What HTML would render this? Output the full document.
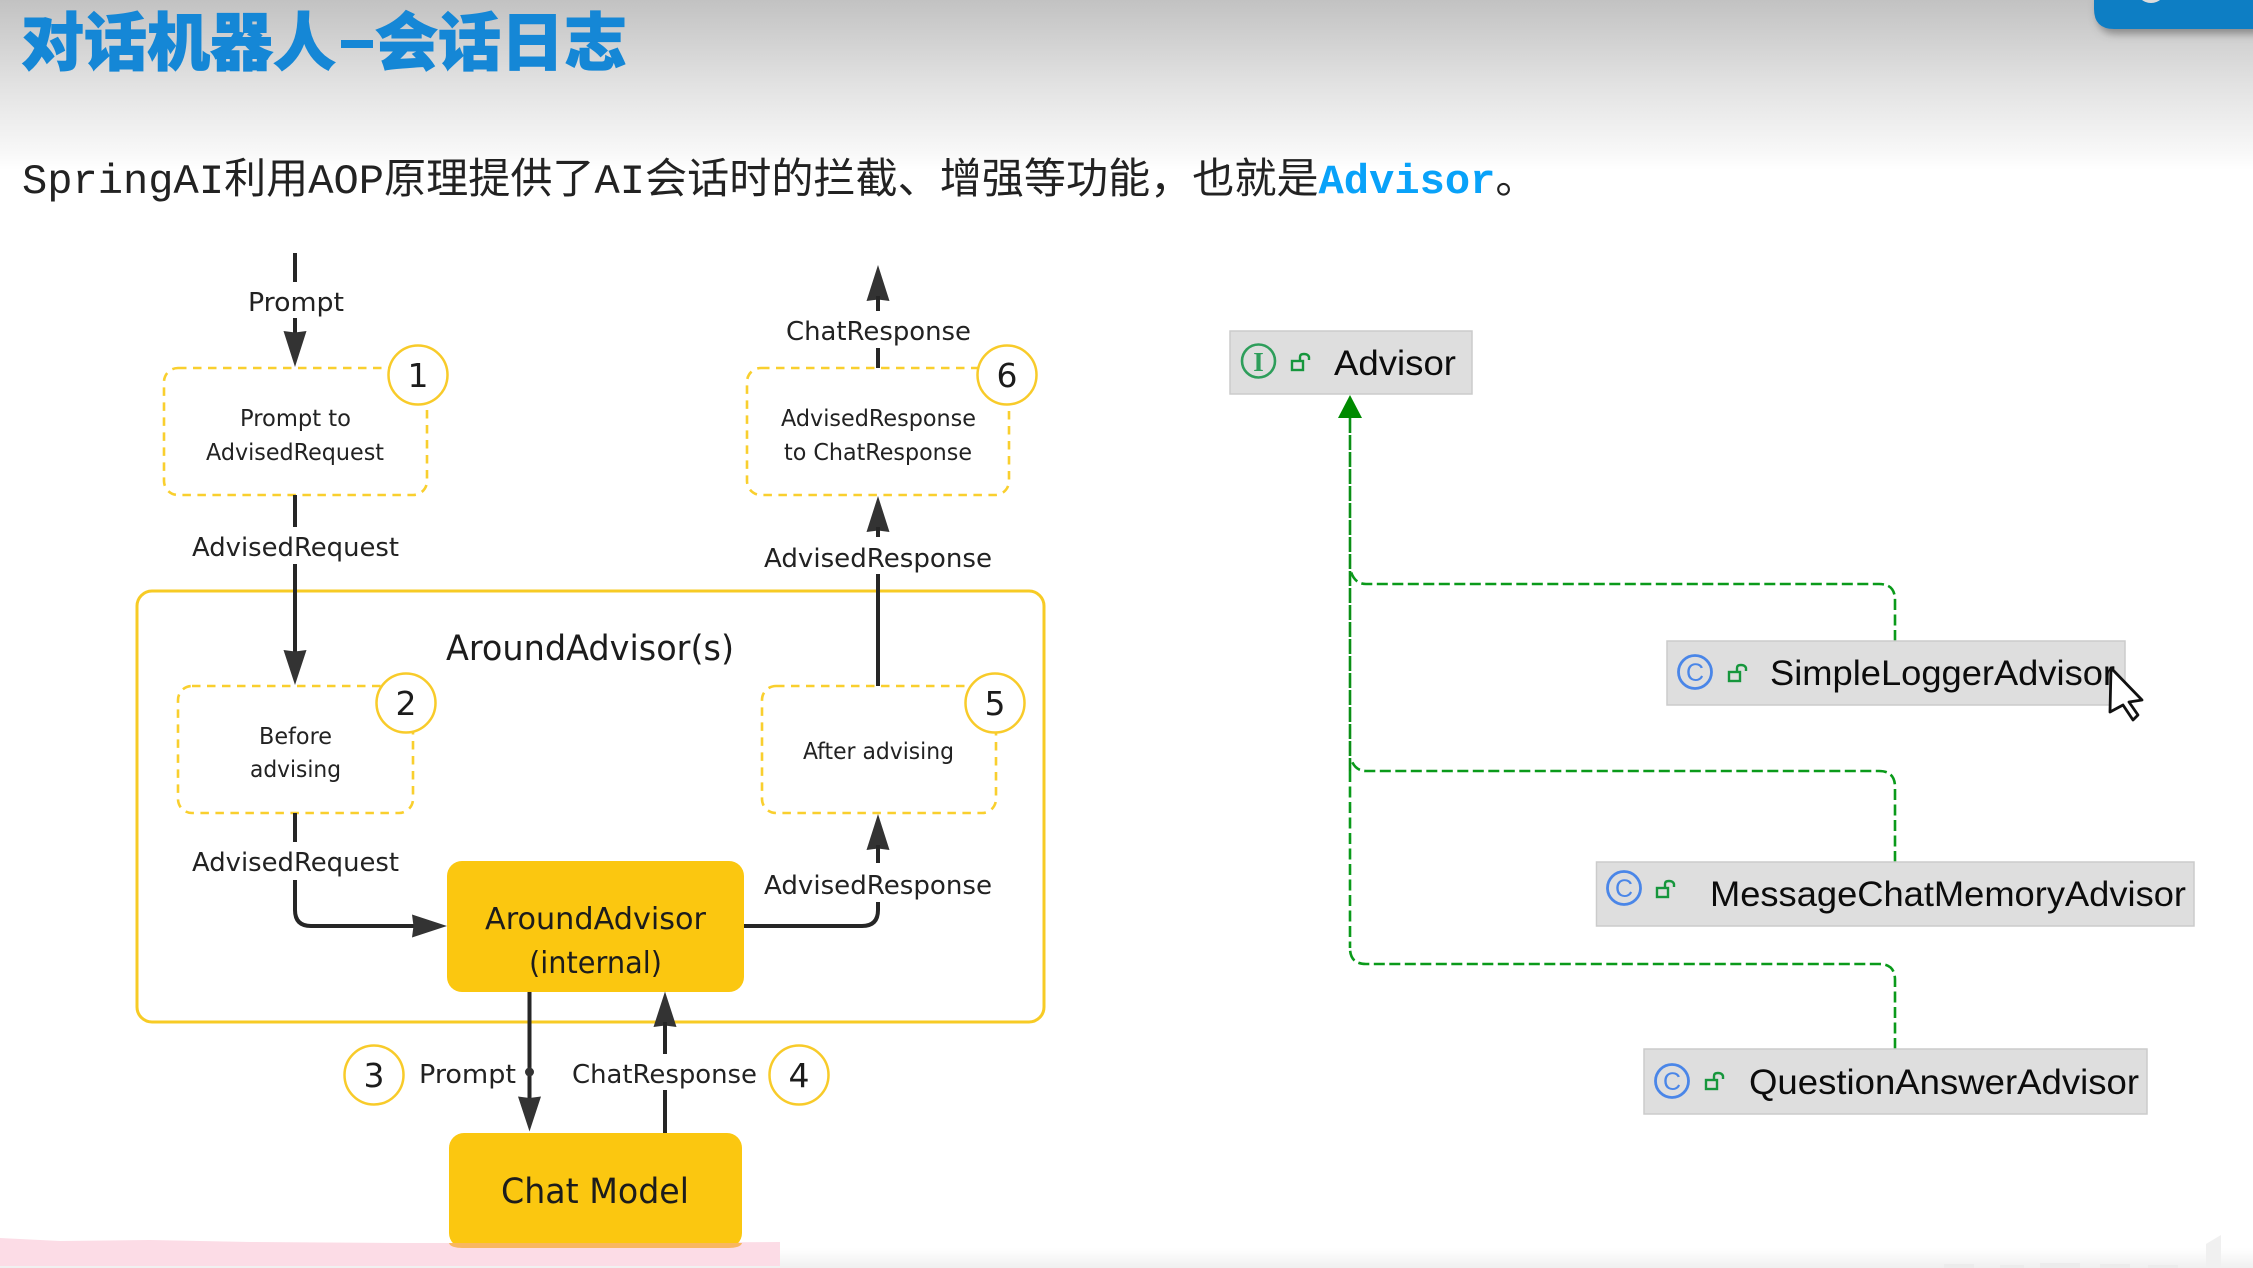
<!DOCTYPE html>
<html lang="zh">
<head>
<meta charset="utf-8">
<title>对话机器人-会话日志</title>
<style>
html,body{margin:0;padding:0;background:#fff;width:2253px;height:1268px;overflow:hidden}
svg{display:block}
.e{font-family:"DejaVu Sans","Liberation Sans",sans-serif;font-size:26px;fill:#222}
.n{font-family:"DejaVu Sans","Liberation Sans",sans-serif;font-size:23px;fill:#222}
.b{font-family:"DejaVu Sans","Liberation Sans",sans-serif;fill:#1c1c1c}
.d{font-family:"DejaVu Sans","Liberation Sans",sans-serif;font-size:33px;fill:#1c1c1c;text-anchor:middle}
.u{font-family:"Liberation Sans",sans-serif;font-size:35px;fill:#0c0c0c}
.dash{fill:none;stroke:#f9cf2e;stroke-width:2.6;stroke-dasharray:8.500 6.500}
.ln{fill:none;stroke:#262626;stroke-width:4}
.ah{fill:#333}
.c{fill:#fff;stroke:#f8cb2a;stroke-width:2.5}
.g{fill:none;stroke:#0a9a1a;stroke-width:2.6;stroke-dasharray:11 4.500}
.cls{fill:#dedede;stroke:#cbcbcb;stroke-width:1.500}
.lock{fill:none;stroke:#16963c;stroke-width:2.4}
</style>
</head>
<body>
<svg xmlns="http://www.w3.org/2000/svg" width="2253" height="1268" viewBox="0 0 2253 1268">
<defs>
<linearGradient id="top" x1="0" y1="0" x2="0" y2="1">
<stop offset="0" stop-color="#c2c2c2"/>
<stop offset=".5" stop-color="#e2e2e2"/>
<stop offset=".9" stop-color="#f8f8f8"/>
<stop offset="1" stop-color="#ffffff"/>
</linearGradient>
<linearGradient id="bot" x1="0" y1="0" x2="0" y2="1">
<stop offset="0" stop-color="#ffffff"/>
<stop offset="1" stop-color="#f0f0f0"/>
</linearGradient>
<filter id="sh" x="-10%" y="-30%" width="120%" height="180%">
<feDropShadow dx="3" dy="5" stdDeviation="4" flood-color="#555" flood-opacity=".55"/>
</filter>
</defs>

<rect width="2253" height="1268" fill="#fff"/>
<rect width="2253" height="170" fill="url(#top)"/>
<rect y="1248" width="2253" height="20" fill="url(#bot)"/>

<!-- top-right tab -->
<path d="M2094 -5H2260V29H2114Q2094 29 2094 9Z" fill="#117ec4" filter="url(#sh)"/>
<circle cx="2151" cy="-12" r="15" fill="#dcdcdc"/>

<!-- title -->
<g font-family="'Noto Sans CJK SC','WenQuanYi Zen Hei',sans-serif" font-weight="900" font-size="63" fill="#1587d6" stroke="#1587d6" stroke-width="1">
<text x="21" y="65">对话机器人</text>
<text x="375" y="65">会话日志</text>
</g>
<rect x="341" y="40" width="32" height="8" fill="#1587d6"/>

<!-- subtitle -->
<text x="22" y="193" xml:space="preserve" font-family="'Liberation Mono','Noto Sans CJK SC',monospace" font-size="42.100" fill="#222">SpringAI利用AOP原理提供了AI会话时的拦截、增强等功能&#xFF0C;也就是<tspan font-weight="700" fill="#09a2f9">Advisor</tspan>。</text>

<!-- pink strip -->
<path d="M0 1238L40 1240 60 1241 150 1240 250 1242 400 1243 600 1243 780 1242V1266H0Z" fill="#fcdce6"/>

<!-- faint bottom-right marks -->
<g fill="#ececec">
<rect x="1944" y="1264" width="30" height="4"/>
<rect x="2000" y="1265" width="24" height="3"/>
<rect x="2040" y="1263" width="40" height="5"/>
<rect x="2100" y="1264" width="30" height="4"/>
<rect x="2148" y="1265" width="30" height="3"/>
<path d="M2206 1244L2221 1235V1268H2206Z" fill="#f0f0f0"/>
</g>

<!-- outer box -->
<rect x="137" y="591" width="907" height="431" rx="15" fill="none" stroke="#f7cb25" stroke-width="3"/>
<text class="b" x="446" y="660" font-size="35" textLength="288" lengthAdjust="spacingAndGlyphs">AroundAdvisor(s)</text>

<!-- dashed boxes -->
<rect class="dash" x="164" y="368" width="263" height="127" rx="14"/>
<rect class="dash" x="747" y="368" width="262" height="127" rx="14"/>
<rect class="dash" x="178" y="686" width="235" height="127" rx="14"/>
<rect class="dash" x="762" y="686" width="234" height="127" rx="14"/>

<text class="n" x="240" y="426" textLength="111" lengthAdjust="spacingAndGlyphs">Prompt to</text>
<text class="n" x="206" y="460" textLength="178" lengthAdjust="spacingAndGlyphs">AdvisedRequest</text>
<text class="n" x="781" y="426" textLength="195" lengthAdjust="spacingAndGlyphs">AdvisedResponse</text>
<text class="n" x="784" y="460" textLength="188" lengthAdjust="spacingAndGlyphs">to ChatResponse</text>
<text class="n" x="259" y="744" textLength="73" lengthAdjust="spacingAndGlyphs">Before</text>
<text class="n" x="250" y="777" textLength="91" lengthAdjust="spacingAndGlyphs">advising</text>
<text class="n" x="803" y="759" textLength="151" lengthAdjust="spacingAndGlyphs">After advising</text>

<!-- solid boxes -->
<rect x="447" y="861" width="297" height="131" rx="15" fill="#fbc710"/>
<text class="b" x="485" y="929" font-size="30" textLength="221" lengthAdjust="spacingAndGlyphs">AroundAdvisor</text>
<text class="b" x="529" y="973" font-size="30" textLength="133" lengthAdjust="spacingAndGlyphs">(internal)</text>

<rect x="449" y="1133" width="293" height="115" rx="15" fill="#fbc710"/>
<path d="M449 1243H742Q741 1248 727 1248H464Q450 1248 449 1243Z" fill="#f9b75f"/>
<text class="b" x="501" y="1203" font-size="35" textLength="188" lengthAdjust="spacingAndGlyphs">Chat Model</text>

<!-- connectors left column -->
<path class="ln" d="M295 253V282"/>
<text class="e" x="248" y="311" textLength="96" lengthAdjust="spacingAndGlyphs">Prompt</text>
<path class="ln" d="M295 318V335"/>
<path class="ah" d="M295 367L283.500 331 295 332.500 306.500 331Z"/>

<path class="ln" d="M295 495V527"/>
<text class="e" x="192" y="556" textLength="207" lengthAdjust="spacingAndGlyphs">AdvisedRequest</text>
<path class="ln" d="M295 564V655"/>
<path class="ah" d="M295 685L283.500 650 295 651.500 306.500 650Z"/>

<path class="ln" d="M295 813V842"/>
<text class="e" x="192" y="871" textLength="207" lengthAdjust="spacingAndGlyphs">AdvisedRequest</text>
<path class="ln" d="M295 880V910Q295 926 311 926H416"/>
<path class="ah" d="M447 926L412 914.500 413.500 926 412 937.500Z"/>

<!-- connectors right column -->
<path class="ah" d="M878 265L866.500 301 878 299.500 889.500 301Z"/>
<path class="ln" d="M878 296V311"/>
<text class="e" x="786" y="340" textLength="185" lengthAdjust="spacingAndGlyphs">ChatResponse</text>
<path class="ln" d="M878 348V368"/>

<path class="ah" d="M878 496L866.500 532 878 530.500 889.500 532Z"/>
<path class="ln" d="M878 527V537"/>
<text class="e" x="764" y="567" textLength="228" lengthAdjust="spacingAndGlyphs">AdvisedResponse</text>
<path class="ln" d="M878 574V686"/>

<path class="ah" d="M878 814L866.500 850 878 848.500 889.500 850Z"/>
<path class="ln" d="M878 845V863"/>
<text class="e" x="764" y="894" textLength="228" lengthAdjust="spacingAndGlyphs">AdvisedResponse</text>
<path class="ln" d="M878 902V910Q878 926 862 926H744"/>

<!-- centre connectors -->
<path class="ln" d="M529.500 992V1100"/>
<circle cx="529.500" cy="1072" r="4.500" fill="#333"/>
<path class="ah" d="M529.500 1131.500L518 1096.500 529.500 1098 541 1096.500Z"/>
<text class="e" x="419" y="1083" textLength="97" lengthAdjust="spacingAndGlyphs">Prompt</text>

<path class="ah" d="M665 991.500L653.500 1027 665 1025.500 676.500 1027Z"/>
<path class="ln" d="M665 1022V1054"/>
<text class="e" x="572" y="1083" textLength="185" lengthAdjust="spacingAndGlyphs">ChatResponse</text>
<path class="ln" d="M665 1090V1133"/>

<!-- number circles -->
<circle class="c" cx="418" cy="375" r="29.500"/><text class="d" x="418" y="387">1</text>
<circle class="c" cx="406" cy="703" r="29.500"/><text class="d" x="406" y="715">2</text>
<circle class="c" cx="374" cy="1075" r="29.500"/><text class="d" x="374" y="1087">3</text>
<circle class="c" cx="799" cy="1075" r="29.500"/><text class="d" x="799" y="1087">4</text>
<circle class="c" cx="995" cy="703" r="29.500"/><text class="d" x="995" y="715">5</text>
<circle class="c" cx="1007" cy="375" r="29.500"/><text class="d" x="1007" y="387">6</text>

<!-- class diagram connectors -->
<path class="g" d="M1895 641V600Q1895 584 1879 584H1366Q1355 584 1351 572"/>
<path class="g" d="M1895 862V787Q1895 771 1879 771H1366Q1355 771 1351 759"/>
<path class="g" d="M1895 1049V980Q1895 964 1879 964H1366Q1350 964 1350 948"/>
<path d="M1350 418V771" fill="none" stroke="#0a8f16" stroke-width="2.600" stroke-dasharray="15 2"/>
<path d="M1350 771V948" fill="none" stroke="#0a9a1a" stroke-width="2.600" stroke-dasharray="11 4.500"/>
<path d="M1350 395L1338 418H1362Z" fill="#008a00"/>

<!-- Advisor -->
<rect class="cls" x="1230" y="331" width="242" height="63"/>
<ellipse cx="1258.500" cy="361" rx="16.500" ry="16.500" fill="none" stroke="#2e9e5b" stroke-width="2.600"/>
<text x="1258.500" y="371" text-anchor="middle" font-family="'Liberation Serif',serif" font-weight="700" font-size="27" fill="#2e9e5b">I</text>
<g class="lock" transform="translate(1291 353)"><rect x="1" y="8" width="11" height="9"/><path d="M9 8V4Q9 1 13 1T18 4V7"/></g>
<text class="u" x="1334" y="375" textLength="122" lengthAdjust="spacingAndGlyphs">Advisor</text>

<!-- SimpleLoggerAdvisor -->
<rect class="cls" x="1667" y="641" width="458" height="64"/>
<circle cx="1695" cy="672" r="16.500" fill="none" stroke="#4a86e8" stroke-width="2.800"/>
<text x="1695" y="681" text-anchor="middle" font-family="'Liberation Sans',sans-serif" font-size="25" fill="#4a86e8">C</text>
<g class="lock" transform="translate(1728 664)"><rect x="1" y="8" width="11" height="9"/><path d="M9 8V4Q9 1 13 1T18 4V7"/></g>
<text class="u" x="1770" y="685" textLength="345" lengthAdjust="spacingAndGlyphs">SimpleLoggerAdvisor</text>
<path d="M2111 668L2110 712 2123 705 2133 720 2138 715 2129 702 2142 700Z" fill="#fff" stroke="#111" stroke-width="2.800" stroke-linejoin="round"/>

<!-- MessageChatMemoryAdvisor -->
<rect class="cls" x="1596.500" y="862" width="597.500" height="64"/>
<circle cx="1624" cy="888" r="16.500" fill="none" stroke="#4a86e8" stroke-width="2.800"/>
<text x="1624" y="897" text-anchor="middle" font-family="'Liberation Sans',sans-serif" font-size="25" fill="#4a86e8">C</text>
<g class="lock" transform="translate(1656 880)"><rect x="1" y="8" width="11" height="9"/><path d="M9 8V4Q9 1 13 1T18 4V7"/></g>
<text class="u" x="1710" y="906" textLength="476" lengthAdjust="spacingAndGlyphs">MessageChatMemoryAdvisor</text>

<!-- QuestionAnswerAdvisor -->
<rect class="cls" x="1644" y="1049" width="503" height="65"/>
<circle cx="1672" cy="1081" r="16.500" fill="none" stroke="#4a86e8" stroke-width="2.800"/>
<text x="1672" y="1090" text-anchor="middle" font-family="'Liberation Sans',sans-serif" font-size="25" fill="#4a86e8">C</text>
<g class="lock" transform="translate(1705 1072)"><rect x="1" y="8" width="11" height="9"/><path d="M9 8V4Q9 1 13 1T18 4V7"/></g>
<text class="u" x="1749" y="1094" textLength="390" lengthAdjust="spacingAndGlyphs">QuestionAnswerAdvisor</text>
</svg>
</body>
</html>
